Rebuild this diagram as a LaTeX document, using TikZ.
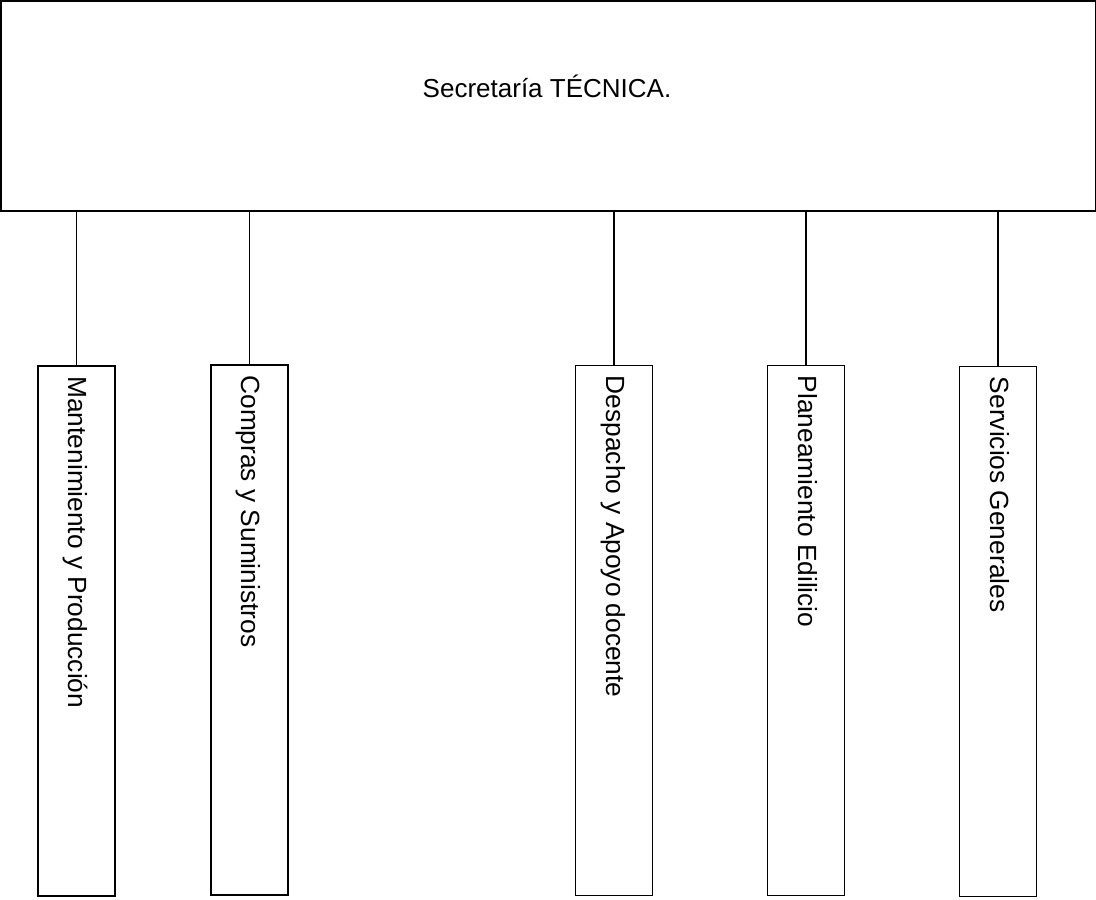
\documentclass[tikz,border=0pt]{standalone}
\usepackage{fontspec}
\setmainfont{Liberation Sans}
\begin{document}
\begin{tikzpicture}[x=1pt,y=-1pt,
  box/.style={draw, line width=1.5pt, rectangle, inner sep=0pt},
  unit/.style={box, minimum width=77pt, minimum height=530pt},
  vlbl/.style={rotate=-90, anchor=base west, inner sep=0pt, font=\fontsize{26.3}{30}\selectfont},
  conn/.style={line width=1.5pt}]
\useasboundingbox (0,0) rectangle (1096,900);
\node[box, minimum width=1094.5pt, minimum height=210pt] (top) at (548,106) {};
\node[anchor=base, inner sep=0pt, font=\fontsize{26}{30}\selectfont] (title) at (547,97.3) {Secretaría TÉCNICA.};
\node[unit] (b1) at (76.5,631) {};
\node[unit] (b2) at (249.5,630) {};
\node[unit] (b3) at (614,630.5) {};
\node[unit] (b4) at (806,630.5) {};
\node[unit] (b5) at (998,631.5) {};
\foreach \b/\t in {b1/Mantenimiento y Producción, b2/Compras y Suministros, b3/Despacho y Apoyo docente, b4/Planeamiento Edilicio, b5/Servicios Generales}{
  \node[vlbl] (\b l) at ([xshift=-8pt,yshift=-11pt]\b.north) {\t};
  \draw[conn] (top.south -| \b.north) -- (\b.north);
}
\end{tikzpicture}
\end{document}
